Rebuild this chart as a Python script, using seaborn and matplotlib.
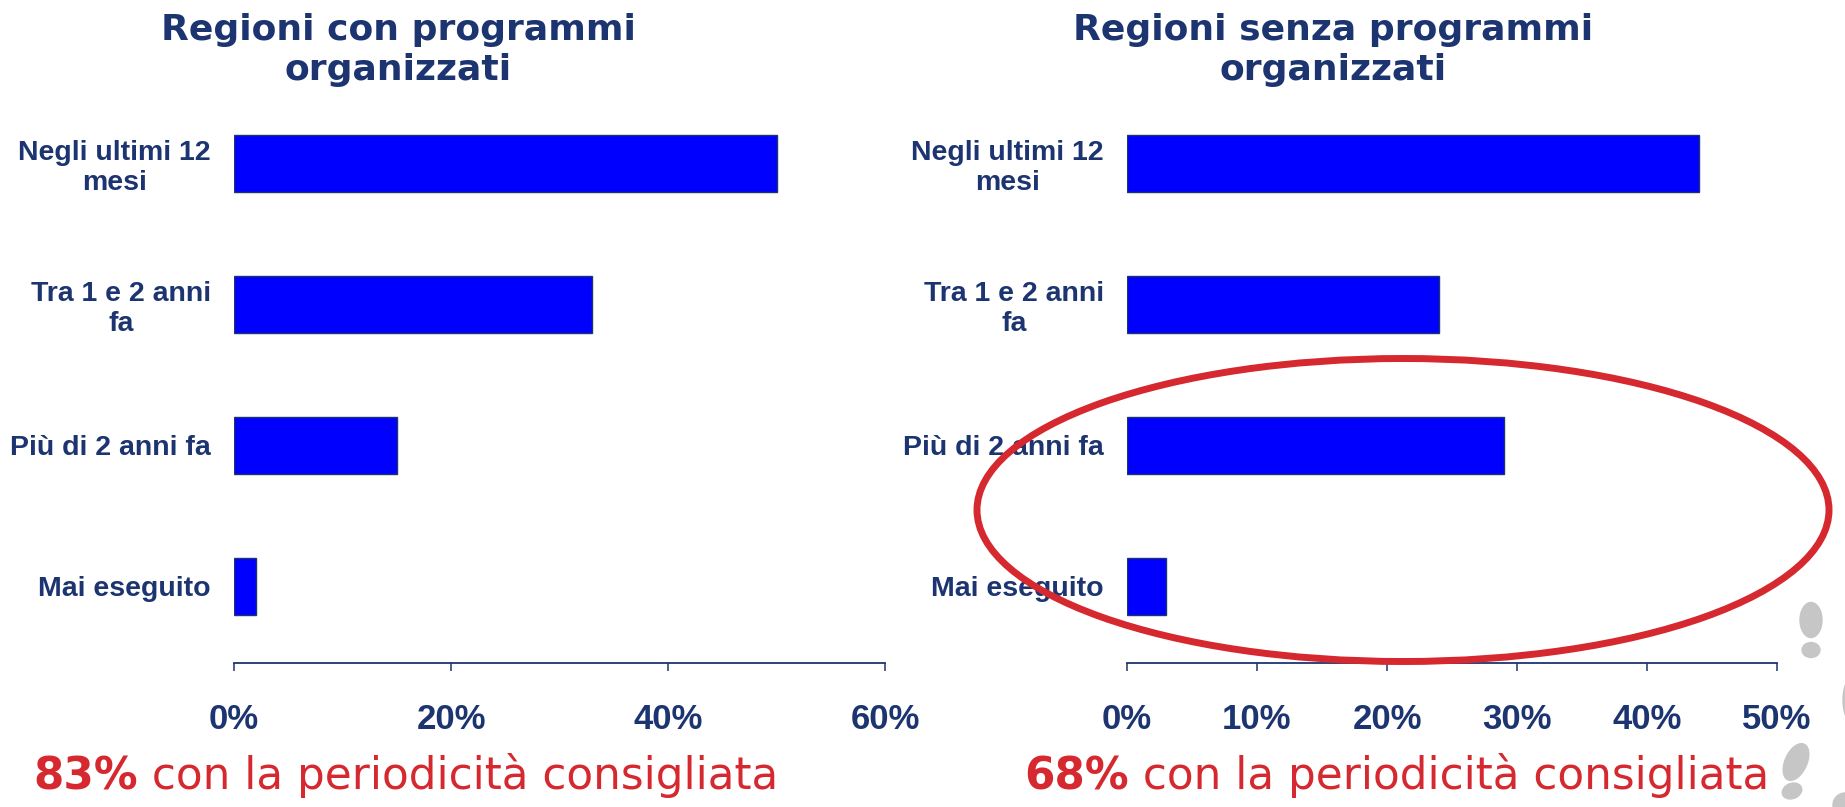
"""Periodicità dei controlli: regioni con / senza programmi organizzati"""

import matplotlib
matplotlib.use("Agg")
import matplotlib.pyplot as plt
from matplotlib.patches import Ellipse
import seaborn as sns
import pandas as pd

# dati
categorie = ["Negli ultimi 12\nmesi", "Tra 1 e 2 anni\nfa", "Più di 2 anni fa", "Mai eseguito"]
con_programmi = [50, 33, 15, 2]
senza_programmi = [44, 24, 29, 3]
titoli = ["Regioni con programmi\norganizzati", "Regioni senza programmi\norganizzati"]
tick_con = [0, 20, 40, 60]
tick_senza = [0, 10, 20, 30, 40, 50]
quota = ["83%", "68%"]
nota = " con la periodicità consigliata"

NAVY = "#1C3470"
BLU = "#0000FF"
ROSSO = "#D5282F"

sns.set_style("white")
plt.rcParams["font.family"] = ["Liberation Sans", "DejaVu Sans"]

W, H = 1845, 807
fig = plt.figure(figsize=(W / 100, H / 100), dpi=100)

# posizioni assi (in pixel della figura)
assi = [(234, 885), (1127, 1777)]
top_px, bot_px = 93, 662.5

pannelli = [
    (con_programmi, tick_con, titoli[0], 398),
    (senza_programmi, tick_senza, titoli[1], 1333),
]

for (x0, x1), (valori, ticks, titolo, tx), q, qx in zip(
    assi, pannelli, quota, [33, 1024]
):
    ax = fig.add_axes([x0 / W, 1 - bot_px / H, (x1 - x0) / W, (bot_px - top_px) / H])
    df = pd.DataFrame({"cat": categorie, "val": valori})
    sns.barplot(
        data=df, x="val", y="cat", orient="h", color=BLU, saturation=1,
        width=0.4, edgecolor=NAVY, linewidth=1, ax=ax,
    )
    ax.set_xlim(ticks[0], ticks[-1])
    ax.set_ylim(3.54, -0.5)
    ax.set_xticks(ticks)
    ax.set_xticklabels([f"{t}%" for t in ticks])
    ax.set_xlabel("")
    ax.set_ylabel("")
    for s in ["top", "right", "left"]:
        ax.spines[s].set_visible(False)
    ax.spines["bottom"].set_color(NAVY)
    ax.spines["bottom"].set_linewidth(1.3)
    ax.tick_params(axis="x", bottom=True, length=6, width=1.1, color=NAVY,
                   pad=23, labelsize=25, labelcolor=NAVY)
    ax.tick_params(axis="y", left=False, length=0, pad=16.5, labelsize=20.5,
                   labelcolor=NAVY)
    for lbl in ax.get_xticklabels():
        lbl.set_fontweight("bold")
    for lbl in ax.get_yticklabels():
        lbl.set_fontweight("bold")
        lbl.set_multialignment("center")
    ax.grid(False)

    fig.text(tx / W, 1 - 50 / H, titolo, ha="center", va="center", color=NAVY,
             fontsize=26, fontweight="bold", family="DejaVu Sans", linespacing=1.25)

    t1 = fig.text(qx / W, 1 - 789 / H, q, ha="left", va="baseline", color=ROSSO,
                  fontsize=31.5, fontweight="bold", family="DejaVu Sans")
    ax.annotate(nota, xy=(1, 0), xycoords=t1, ha="left", va="bottom",
                color=ROSSO, fontsize=31.5, family="DejaVu Sans",
                annotation_clip=False)

# ellisse rossa che evidenzia le ultime due categorie
fig.add_artist(Ellipse((1403 / W, 1 - 510 / H), 852 / W, 303 / H,
                       transform=fig.transFigure, fill=False,
                       edgecolor=ROSSO, linewidth=5, zorder=5))

# impronte grigie decorative sul bordo destro
GRIGIO = "#C6C6C6"
for cx, cy, w, h, ang in [(1811, 620, 22, 35, 0), (1811, 650, 18, 15, 0),
                          (1796, 762, 23, 37, -8), (1792, 791, 19, 16, -8),
                          (1851, 700, 16, 42, 0), (1845, 805, 24, 24, 0)]:
    fig.add_artist(Ellipse((cx / W, 1 - cy / H), w / W, h / H, angle=ang,
                           transform=fig.transFigure, color=GRIGIO, zorder=1))

fig.savefig("out.png", dpi=100)
